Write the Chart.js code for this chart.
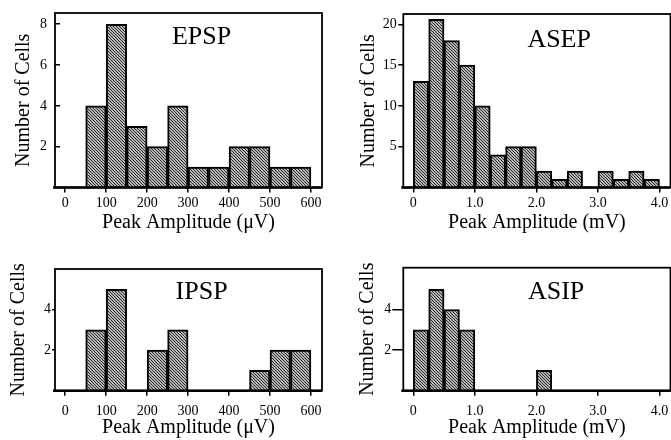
<!DOCTYPE html>
<html>
<head>
<meta charset="utf-8">
<script src="https://cdn.jsdelivr.net/npm/chart.js@4.4.1/dist/chart.umd.min.js"></script>
<style>
  html, body { margin: 0; padding: 0; background: #fff; }
  #wrap { position: relative; width: 671px; height: 440px; overflow: hidden; }
  #wrap canvas { position: absolute; display: block; }
</style>
</head>
<body>
<div id="wrap">
  <canvas id="epsp" width="335" height="236" style="left:0;top:0"></canvas>
  <canvas id="asep" width="336" height="236" style="left:335px;top:0"></canvas>
  <canvas id="ipsp" width="335" height="204" style="left:0;top:236px"></canvas>
  <canvas id="asip" width="336" height="204" style="left:335px;top:236px"></canvas>
</div>
<script>
// ---- data (bin left edges + counts) ----
const epspBins   = [50, 100, 150, 200, 250, 300, 350, 400, 450, 500, 550];
const epspCounts = [4, 8, 3, 2, 4, 1, 1, 2, 2, 1, 1];

const asepBins   = [0, 0.25, 0.5, 0.75, 1.0, 1.25, 1.5, 1.75, 2.0, 2.25, 2.5, 2.75, 3.0, 3.25, 3.5, 3.75];
const asepCounts = [13, 20.6, 18, 15, 10, 4, 5, 5, 2, 1, 2, 0, 2, 1, 2, 1];

const ipspBins   = [50, 100, 200, 250, 450, 500, 550];
const ipspCounts = [3, 5, 2, 3, 1, 2, 2];

const asipBins   = [0, 0.25, 0.5, 0.75, 2.0];
const asipCounts = [3, 5, 4, 3, 1];

const uvTicks   = [0, 100, 200, 300, 400, 500, 600];
const mvTicks   = [0, 1, 2, 3, 4];
const epspYTicks = [2, 4, 6, 8];
const asepYTicks = [5, 10, 15, 20];
const smallYTicks = [2, 4];

const SERIF = '"Liberation Serif", "Times New Roman", serif';
Chart.defaults.font.family = SERIF;
Chart.defaults.color = '#000';

// ---- fine grey stipple like the scanned figure ----
function hatch() {
  const c = document.createElement('canvas');
  c.width = c.height = 3;
  const g = c.getContext('2d');
  g.fillStyle = '#b4b4b4';
  g.fillRect(0, 0, 3, 3);
  g.fillStyle = '#2e2e2e';
  for (let i = 0; i < 3; i++) g.fillRect(i, i, 1, 1);
  return g.createPattern(c, 'repeat');
}

// ---- box round the plot area ----
const framePlugin = {
  id: 'frame',
  afterDatasetsDraw(chart) {
    const {ctx, chartArea: a} = chart;
    ctx.save();
    ctx.strokeStyle = '#000';
    ctx.lineWidth = 1.8;
    ctx.strokeRect(a.left, a.top, a.right - a.left, a.bottom - a.top);
    ctx.lineWidth = 2.6;
    ctx.beginPath();
    ctx.moveTo(a.left - 2, a.bottom);
    ctx.lineTo(a.right, a.bottom);
    ctx.stroke();
    ctx.restore();
  }
};

// ---- panel name inside the plot ----
const labelPlugin = {
  id: 'panelLabel',
  afterDraw(chart, args, o) {
    const {ctx, scales} = chart;
    ctx.save();
    ctx.font = '26px ' + SERIF;
    ctx.fillStyle = '#000';
    ctx.textAlign = 'center';
    ctx.textBaseline = 'middle';
    ctx.fillText(o.text, scales.x.getPixelForValue(o.x), scales.y.getPixelForValue(o.y));
    ctx.restore();
  }
};

function histogram(id, c) {
  const half = c.binWidth / 2;
  const points = c.bins.map((b, i) => ({x: b + half, y: c.counts[i]}));
  return new Chart(document.getElementById(id), {
    type: 'bar',
    data: {
      datasets: [{
        data: points,
        backgroundColor: hatch(),
        borderColor: '#000',
        borderWidth: 2,
        barPercentage: 1,
        categoryPercentage: 1,
      }]
    },
    options: {
      responsive: false,
      animation: false,
      events: [],
      layout: { padding: c.pad },
      plugins: {
        legend: { display: false },
        tooltip: { enabled: false },
        panelLabel: c.label,
      },
      scales: {
        x: {
          type: 'linear',
          offset: false,
          min: c.xMin,
          max: c.xMax,
          afterBuildTicks: s => { s.ticks = c.xTicks.map(v => ({value: v})); },
          afterFit: s => { s.height = c.xHeight; s.paddingLeft = 0; s.paddingRight = 0; },
          ticks: {
            font: { size: 14 },
            padding: c.xTickPad,
            maxRotation: 0,
            autoSkip: false,
            callback: c.xFmt,
          },
          grid: { offset: false, drawOnChartArea: false, tickLength: 5, color: '#000', lineWidth: 1.5 },
          border: { display: false },
          title: {
            display: true,
            text: c.xTitle,
            font: { size: 20 },
            padding: { top: 0, bottom: c.xTitlePad },
          },
        },
        y: {
          min: 0,
          max: c.yMax,
          afterBuildTicks: s => { s.ticks = c.yTicks.map(v => ({value: v})); },
          afterFit: s => { s.width = c.yWidth; s.paddingTop = 0; s.paddingBottom = 0; },
          ticks: { font: { size: 14 }, padding: c.yTickPad },
          grid: { drawOnChartArea: false, tickLength: c.yTickLen, color: '#000', lineWidth: 1.5 },
          border: { display: false },
          title: {
            display: true,
            text: 'Number of Cells',
            font: { size: 20 },
            padding: { top: c.yTitlePad, bottom: 0 },
          },
        }
      }
    },
    plugins: [framePlugin, labelPlugin]
  });
}

const uvFmt = v => String(v);
const mvFmt = v => v === 0 ? '0' : v.toFixed(1);

histogram('epsp', {
  bins: epspBins, counts: epspCounts, binWidth: 50,
  pad: { left: 0, top: 13, right: 13, bottom: 0 },
  xMin: -25, xMax: 627, xTicks: uvTicks, xFmt: uvFmt, xHeight: 48.5, xTickPad: 2.6,
  xTitle: 'Peak Amplitude (\u03bcV)', xTitlePad: 1,
  yMax: 8.55, yTicks: epspYTicks, yWidth: 55, yTickLen: -5, yTickPad: 13, yTitlePad: 12,
  label: { text: 'EPSP', x: 333, y: 7.35 },
});

histogram('asep', {
  bins: asepBins, counts: asepCounts, binWidth: 0.25,
  pad: { left: 0, top: 14, right: 0.5, bottom: 0 },
  xMin: -0.1625, xMax: 4.179, xTicks: mvTicks, xFmt: mvFmt, xHeight: 48.5, xTickPad: 2.6,
  xTitle: 'Peak Amplitude (mV)', xTitlePad: 1,
  yMax: 21.26, yTicks: asepYTicks, yWidth: 68.3, yTickLen: 5, yTickPad: 1.6, yTitlePad: 22,
  label: { text: 'ASEP', x: 2.37, y: 18.1 },
});

histogram('ipsp', {
  bins: ipspBins, counts: ipspCounts, binWidth: 50,
  pad: { left: 0, top: 33, right: 13, bottom: 0 },
  xMin: -25, xMax: 627, xTicks: uvTicks, xFmt: uvFmt, xHeight: 49.3, xTickPad: 7.6,
  xTitle: 'Peak Amplitude (\u03bcV)', xTitlePad: 0,
  yMax: 6.0, yTicks: smallYTicks, yWidth: 55, yTickLen: 3, yTickPad: 1, yTitlePad: 7,
  label: { text: 'IPSP', x: 333, y: 4.86 },
});

histogram('asip', {
  bins: asipBins, counts: asipCounts, binWidth: 0.25,
  pad: { left: 0, top: 31.7, right: 0.5, bottom: 0 },
  xMin: -0.1625, xMax: 4.179, xTicks: mvTicks, xFmt: mvFmt, xHeight: 49.3, xTickPad: 7.6,
  xTitle: 'Peak Amplitude (mV)', xTitlePad: 0,
  yMax: 6.06, yTicks: smallYTicks, yWidth: 68.3, yTickLen: 11, yTickPad: 1, yTitlePad: 21,
  label: { text: 'ASIP', x: 2.32, y: 4.86 },
});
</script>
</body>
</html>
